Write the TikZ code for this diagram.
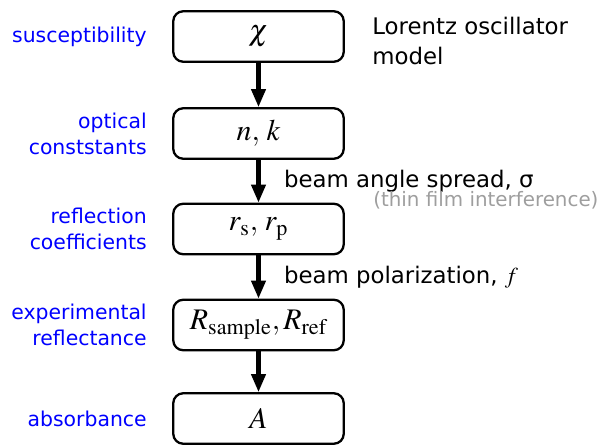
\documentclass[tikz,border=0pt]{standalone}
\usepackage{mathptmx}
\usepackage[no-math]{fontspec}
\setmainfont{DejaVu Sans}
\usepackage{tikz}
\usetikzlibrary{arrows.meta, positioning}

\tikzset{
    stage/.style={draw=black, line width=1.3pt, rounded corners=0.2cm, fill=white,
        minimum width=3.41cm, minimum height=1.01cm, inner sep=0pt,
        font=\fontsize{17}{20}\selectfont},
    quantity/.style={anchor=east, inner sep=0pt, align=right, text=blue,
        font=\fontsize{11.6}{14.7}\selectfont},
    note/.style={inner sep=0pt, align=left, font=\fontsize{13}{17}\selectfont},
    flow/.style={-{Triangle[length=0.36cm, width=0.28cm]}, line width=2.3pt},
}

\begin{document}
\begin{tikzpicture}
        \useasboundingbox (0, 0) rectangle (12.1, -8.92);

        % Catena di calcolo
        \node[stage] (s0) at (5.17, -0.73) {$\chi$};
        \node[stage] (s1) at (5.17, -2.67) {$n,\, k$};
        \node[stage] (s2) at (5.17, -4.58) {$r_{\mathrm{s}},\, r_{\mathrm{p}}$};
        \node[stage] (s3) at (5.17, -6.50) {$R_{\mathrm{sample}}, R_{\mathrm{ref}}$};
        \node[stage] (s4) at (5.17, -8.37) {$A$};

        % Grandezze a sinistra
        \node[quantity] (l0) at (2.94, -0.73) {susceptibility};
        \node[quantity] (l1) at (2.94, -2.67) {optical\\conststants};
        \node[quantity] (l2) at (2.94, -4.58) {reflection\\coefficients};
        \node[quantity] (l3) at (2.94, -6.50) {experimental\\reflectance};
        \node[quantity] (l4) at (2.94, -8.37) {absorbance};

        % Frecce con i parametri
        \draw[flow] (s0) -- (s1);
        \draw[flow] (s1) -- node[note, anchor=west, xshift=0.47cm] (p1) {beam angle spread, σ} (s2);
        \draw[flow] (s2) -- node[note, anchor=west, xshift=0.47cm] (p2) {beam polarization, $f$} (s3);
        \draw[flow] (s3) -- (s4);

        % Note a destra
        \node[note, anchor=west] (m0) at (7.44, -0.82) {Lorentz oscillator\\model};
        \node[note, anchor=base west, text=black!38, font=\fontsize{11.3}{14}\selectfont] (m1) at (7.46, -4.12) {(thin film interference)};
    \end{tikzpicture}
\end{document}
